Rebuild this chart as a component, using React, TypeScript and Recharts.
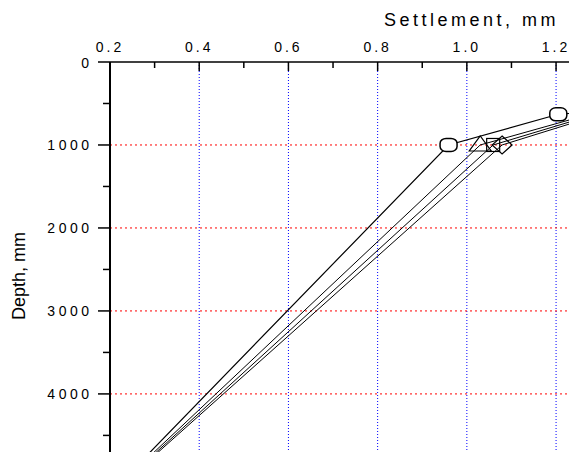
import { LineChart, Line, XAxis, YAxis, ReferenceLine, Label } from "recharts";

// settlement (mm) vs depth (mm)
const hexSettlement = [0.236, 0.959, 1.205, 1.4];
const hexDepth = [5000, 1000, 630, 550];

const triSettlement = [0.24, 1.03, 1.295];
const triDepth = [5000, 1000, 600];

const sqSettlement = [0.243, 1.059, 1.306];
const sqDepth = [5000, 1000, 600];

const diaSettlement = [0.246, 1.079, 1.318];
const diaDepth = [5000, 1000, 600];

const xTicks = [0.2, 0.3, 0.4, 0.5, 0.6, 0.7, 0.8, 0.9, 1.0, 1.1, 1.2];
const yTicks = [0, 500, 1000, 1500, 2000, 2500, 3000, 3500, 4000, 4500];
const gridX = [0.4, 0.6, 0.8, 1.0, 1.2];
const gridY = [1000, 2000, 3000, 4000];

const FONT = "'Liberation Sans', Arial, sans-serif";

const zip = (s: number[], d: number[]) => s.map((v, i) => ({ s: v, d: d[i] }));

const hexData = zip(hexSettlement, hexDepth);
const triData = zip(triSettlement, triDepth);
const sqData = zip(sqSettlement, sqDepth);
const diaData = zip(diaSettlement, diaDepth);

function XTick(props: any) {
  const { x, y, payload } = props;
  const v = payload.value as number;
  const major = Math.round(v * 10) % 2 === 0;
  return (
    <g>
      <line x1={x} x2={x} y1={y} y2={y + (major ? 9 : 6)} stroke="#000" strokeWidth={1.5} />
      {major && (
        <text x={x} y={y - 10} textAnchor="middle" fontFamily={FONT} fontSize={14} letterSpacing={3} fill="#000">
          {v.toFixed(1)}
        </text>
      )}
    </g>
  );
}

function YTick(props: any) {
  const { x, y, payload } = props;
  const v = payload.value as number;
  const major = v % 1000 === 0;
  return (
    <g>
      <line x1={x} x2={x - (major ? 12 : 7)} y1={y} y2={y} stroke="#000" strokeWidth={1.5} />
      {major && (
        <text x={x - 17.5} y={y + 5.5} textAnchor="end" fontFamily={FONT} fontSize={14} letterSpacing={3.5} fill="#000">
          {v}
        </text>
      )}
    </g>
  );
}

const hexDot = (p: any) => (
  <rect key={`h${p.index}`} x={p.cx - 8.5} y={p.cy - 6.5} width={17} height={13} rx={6} ry={5} fill="#fff" stroke="#000" strokeWidth={1.5} />
);
const triDot = (p: any) => (
  <polygon key={`t${p.index}`} points={`${p.cx},${p.cy - 9} ${p.cx - 11},${p.cy + 6} ${p.cx + 11},${p.cy + 6}`} fill="none" stroke="#000" strokeWidth={1.2} />
);
const sqDot = (p: any) => (
  <rect key={`s${p.index}`} x={p.cx - 6.5} y={p.cy - 6.5} width={13} height={13} fill="none" stroke="#000" strokeWidth={1.2} />
);
const diaDot = (p: any) => (
  <polygon key={`d${p.index}`} points={`${p.cx},${p.cy - 9} ${p.cx + 10},${p.cy} ${p.cx},${p.cy + 9} ${p.cx - 10},${p.cy}`} fill="none" stroke="#000" strokeWidth={1.2} />
);

export default function App() {
  return (
    <div style={{ position: "absolute", left: 0, top: 0, width: 569, height: 452, background: "#fff" }}>
      <LineChart width={569} height={452} margin={{ top: 32, right: 0, bottom: 0, left: 50 }}>
        <XAxis
          xAxisId="x"
          orientation="top"
          type="number"
          dataKey="s"
          domain={[0.2, 1.229]}
          allowDataOverflow
          ticks={xTicks}
          interval={0}
          height={30}
          tickSize={0}
          tickMargin={0}
          tickLine={false}
          tick={XTick}
          axisLine={{ stroke: "#000", strokeWidth: 1.5 }}
        >
          <Label
            content={() => (
              <text x={559} y={26} textAnchor="end" fontFamily={FONT} fontSize={18} letterSpacing={3.5} fill="#000">
                Settlement, mm
              </text>
            )}
          />
        </XAxis>
        <YAxis
          yAxisId="y"
          type="number"
          dataKey="d"
          reversed
          domain={[0, 4700]}
          allowDataOverflow
          ticks={yTicks}
          interval={0}
          width={60}
          tickSize={0}
          tickMargin={0}
          tickLine={false}
          tick={YTick}
          axisLine={{ stroke: "#000", strokeWidth: 2 }}
        >
          <Label
            content={() => (
              <text x={25} y={276} transform="rotate(-90 25 276)" textAnchor="middle" fontFamily={FONT} fontSize={18} fill="#000">
                Depth, mm
              </text>
            )}
          />
        </YAxis>
        {gridX.map((v) => (
          <ReferenceLine key={`gx${v}`} xAxisId="x" yAxisId="y" x={v} stroke="#0000ff" strokeDasharray="1 2" strokeWidth={1} />
        ))}
        {gridY.map((v) => (
          <ReferenceLine key={`gy${v}`} xAxisId="x" yAxisId="y" y={v} stroke="#ff0000" strokeDasharray="2 3" strokeWidth={1} />
        ))}
        <Line xAxisId="x" yAxisId="y" data={diaData} dataKey="d" stroke="#000" strokeWidth={1} dot={diaDot} activeDot={false} isAnimationActive={false} />
        <Line xAxisId="x" yAxisId="y" data={sqData} dataKey="d" stroke="#000" strokeWidth={1} dot={sqDot} activeDot={false} isAnimationActive={false} />
        <Line xAxisId="x" yAxisId="y" data={triData} dataKey="d" stroke="#000" strokeWidth={1} dot={triDot} activeDot={false} isAnimationActive={false} />
        <Line xAxisId="x" yAxisId="y" data={hexData} dataKey="d" stroke="#000" strokeWidth={1.2} dot={hexDot} activeDot={false} isAnimationActive={false} />
      </LineChart>
    </div>
  );
}
